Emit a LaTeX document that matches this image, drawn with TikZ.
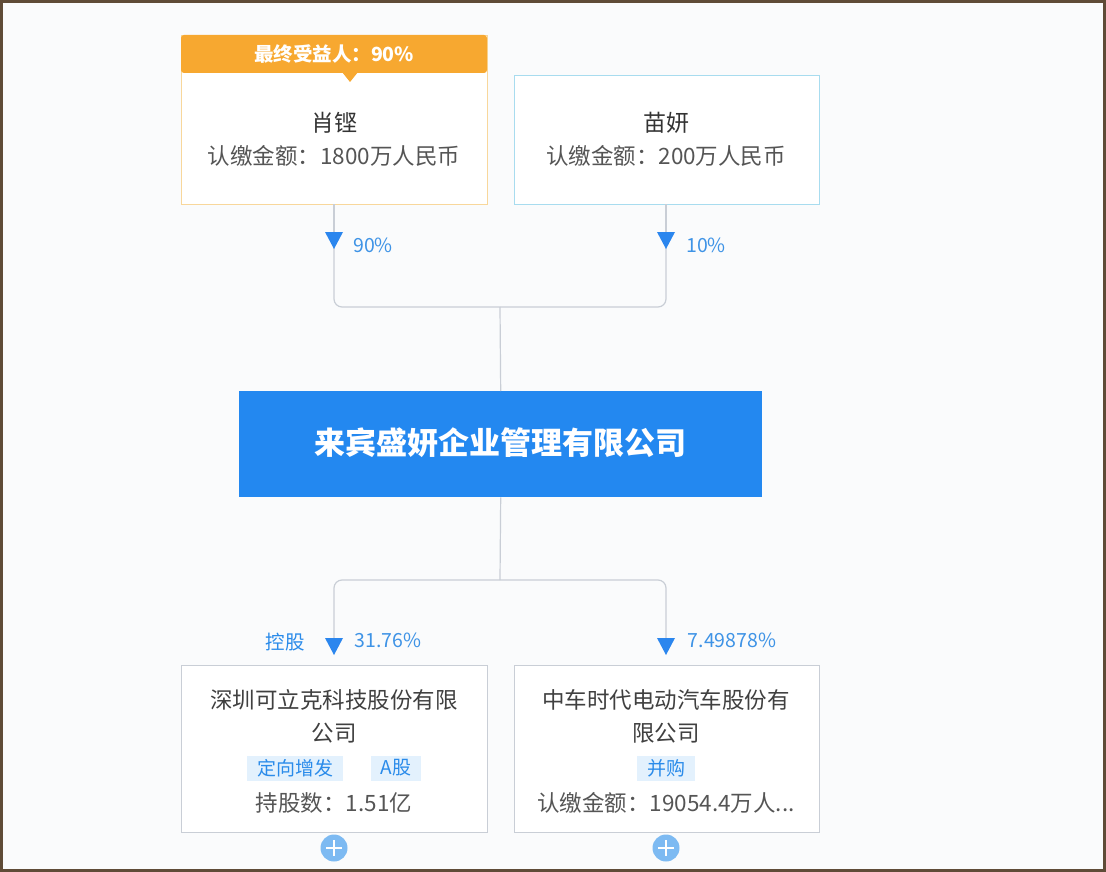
\documentclass[tikz,border=0pt]{standalone}
\usepackage{fontspec}
\setmainfont{Noto Sans CJK SC}
\begin{document}
\begin{tikzpicture}[x=1pt,y=-1pt,
  ln/.style={draw=lineg,line width=1.2pt,rounded corners=8pt},
  txt/.style={font=\fontsize{22.5}{26}\selectfont,text=textg},
  tag/.style={fill=tagbg,text=tagfg,font=\fontsize{19}{22}\selectfont,minimum height=25pt,inner xsep=10pt},
  pct/.style={text=pctblue,font=\fontsize{19.5}{22}\selectfont},
  tri/.style={fill=arrowblue},
  plus/.style={circle,fill=plusblue,minimum size=27pt,inner sep=0pt}]
\definecolor{lineg}{HTML}{C9CED6}
\definecolor{textg}{HTML}{555555}
\definecolor{tagbg}{HTML}{E3F1FD}
\definecolor{tagfg}{HTML}{2A8BEA}
\definecolor{pctblue}{HTML}{3E93E6}
\definecolor{arrowblue}{HTML}{2B86EE}
\definecolor{plusblue}{HTML}{7DBAF2}
\definecolor{bg}{HTML}{FAFBFC}
\useasboundingbox (0,0) rectangle (1106,872);
\fill[bg] (0,0) rectangle (1106,872);
\draw[draw={rgb,255:red,95;green,75;blue,55},line width=3pt] (1.5,1.5) rectangle (1104.5,870.5);
% top-left box
\node[draw={rgb,255:red,248;green,215;blue,155},fill=white,line width=1pt,minimum width=306pt,minimum height=169pt,anchor=north west,inner sep=0pt] (a) at (181,35) {};
\fill[fill={rgb,255:red,247;green,168;blue,48},rounded corners=3pt] (181,35) rectangle (487,73);
\fill[fill={rgb,255:red,247;green,168;blue,48}] (342,72) -- (358,72) -- (350,82) -- cycle;
\node[text=white,font=\bfseries\fontsize{19.5}{22}\selectfont] (ah) at (334,54) {最终受益人：90\%};
\node[font=\fontsize{23}{26}\selectfont,text=black!80] (an) at (334,123) {肖铿};
\node[txt] (aa) at (334,156) {认缴金额：1800万人民币};
% top-right box
\node[draw={rgb,255:red,168;green,220;blue,239},fill=white,line width=1pt,minimum width=305pt,minimum height=129pt,anchor=north west,inner sep=0pt] (b) at (514,75) {};
\node[font=\fontsize{23}{26}\selectfont,text=black!80] (bn) at (666,123) {苗妍};
\node[txt] (ba) at (666,156) {认缴金额：200万人民币};
% upper connectors
\coordinate (ta) at (334,232); \coordinate (tb) at (666,232);
\draw[ln] (334,204) -- (ta);
\draw[ln] (666,204) -- (tb);
\draw[ln] (334,248) -- (334,307) -- (666,307) -- (666,248);
\fill[tri] (325,232) -- (343,232) -- (334,249) -- cycle;
\fill[tri] (657,232) -- (675,232) -- (666,249) -- cycle;
\node[pct] (p1) at (373,245) {90\%};
\node[pct] (p2) at (706,245) {10\%};
% center
\node[fill={rgb,255:red,35;green,136;blue,240},minimum width=523pt,minimum height=106pt,anchor=north west,inner sep=0pt] (c) at (239,391) {};
\node[text=white,font=\bfseries\fontsize{31}{34}\selectfont] (ct) at (500,443) {来宾盛妍企业管理有限公司};
\draw[ln] (500,307) -- (c.north);
\draw[ln] (c.south) -- (500,580);
\draw[ln] (334,638) -- (334,580) -- (666,580) -- (666,638);
\fill[tri] (325,638) -- (343,638) -- (334,655) -- cycle;
\fill[tri] (657,638) -- (675,638) -- (666,655) -- cycle;
\node[pct,text=tagfg] (kg) at (285,642) {控股};
\node[pct] (p3) at (388,640) {31.76\%};
\node[pct] (p4) at (732,640) {7.49878\%};
% bottom boxes
\node[draw=lineg,fill=white,line width=1pt,minimum width=306pt,minimum height=167pt,anchor=north west,inner sep=0pt] (d) at (181,665) {};
\node[txt,text=black!75] (d1) at (334,700) {深圳可立克科技股份有限};
\node[txt,text=black!75] (d2) at (334,733) {公司};
\node[tag] (d3) at (295,768) {定向增发};
\node[tag] (d4) at (396,768) {A股};
\node[txt] (d5) at (334,803) {持股数：1.51亿};
\node[draw=lineg,fill=white,line width=1pt,minimum width=305pt,minimum height=167pt,anchor=north west,inner sep=0pt] (e) at (514,665) {};
\node[txt,text=black!75] (e1) at (666,700) {中车时代电动汽车股份有};
\node[txt,text=black!75] (e2) at (666,733) {限公司};
\node[tag] (e3) at (666,768) {并购};
\node[txt] (e5) at (666,803) {认缴金额：19054.4万人...};
% plus
\foreach \n/\x in {pa/334,pb/666}{
  \node[plus] (\n) at (\x,848) {};
  \draw[white,line width=2.5pt] (\x-8,848) -- (\x+8,848) (\x,840) -- (\x,856);
}
\end{tikzpicture}
\end{document}
